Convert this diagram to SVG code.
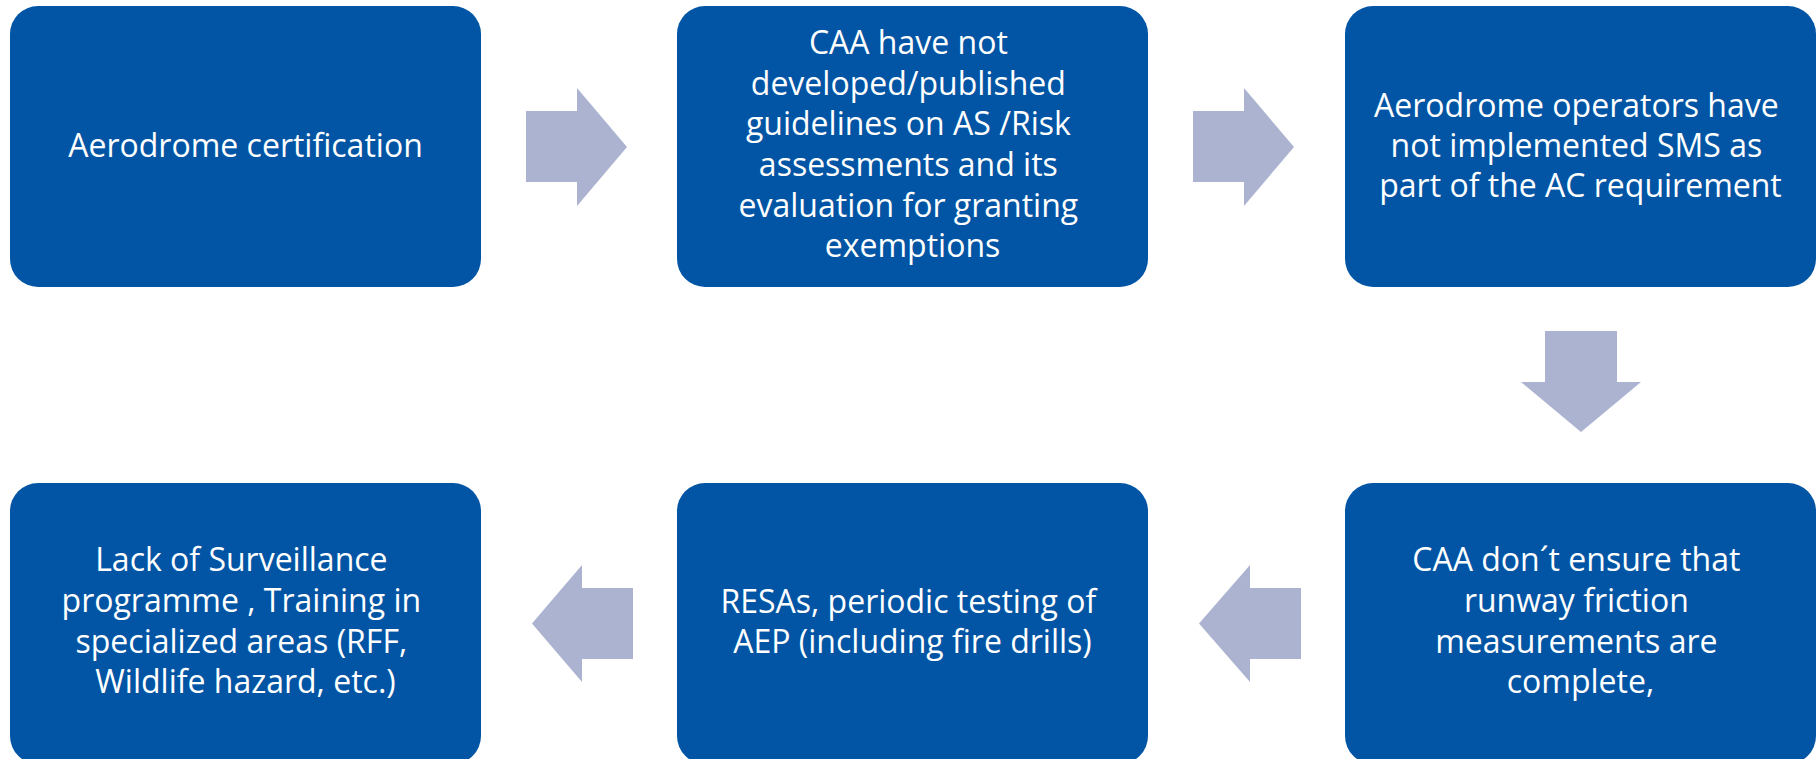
<svg xmlns="http://www.w3.org/2000/svg" width="1819" height="759" viewBox="0 0 1819 759">
  <style>
    .box { fill: #0255A4; }
    .arrow { fill: #ABB3D0; }
    .label { fill: #FFFFFF; font-family: "Open Sans", "Liberation Sans", sans-serif; font-size: 32px; text-anchor: middle; }
  </style>
  <rect width="1819" height="759" fill="#FFFFFF"/>

  <!-- process steps -->
  <g id="node-aerodrome-certification">
    <rect class="box" x="10" y="6" width="471" height="281" rx="28" ry="28"/>
    <text class="label" x="245.5" y="157">Aerodrome certification</text>
  </g>
  <g id="node-caa-guidelines">
    <rect class="box" x="677" y="6" width="471" height="281" rx="28" ry="28"/>
    <text class="label">
      <tspan x="912.5" y="54">CAA have not</tspan>
      <tspan x="912.5" y="94.5">developed/published</tspan>
      <tspan x="912.5" y="135">guidelines on AS /Risk</tspan>
      <tspan x="912.5" y="176">assessments and its</tspan>
      <tspan x="912.5" y="217">evaluation for granting</tspan>
      <tspan x="912.5" y="257">exemptions</tspan>
    </text>
  </g>
  <g id="node-operators-sms">
    <rect class="box" x="1345" y="6" width="471" height="281" rx="28" ry="28"/>
    <text class="label">
      <tspan x="1580.5" y="117">Aerodrome operators have</tspan>
      <tspan x="1580.5" y="157">not implemented SMS as</tspan>
      <tspan x="1580.5" y="197">part of the AC requirement</tspan>
    </text>
  </g>
  <g id="node-runway-friction">
    <rect class="box" x="1345" y="483" width="471" height="281" rx="28" ry="28"/>
    <text class="label">
      <tspan x="1580.5" y="571">CAA don´t ensure that</tspan>
      <tspan x="1580.5" y="612">runway friction</tspan>
      <tspan x="1580.5" y="653">measurements are</tspan>
      <tspan x="1580.5" y="693">complete,</tspan>
    </text>
  </g>
  <g id="node-resas-aep">
    <rect class="box" x="677" y="483" width="471" height="281" rx="28" ry="28"/>
    <text class="label">
      <tspan x="912.5" y="613">RESAs, periodic testing of</tspan>
      <tspan x="912.5" y="653">AEP (including fire drills)</tspan>
    </text>
  </g>
  <g id="node-surveillance">
    <rect class="box" x="10" y="483" width="471" height="281" rx="28" ry="28"/>
    <text class="label">
      <tspan x="245.5" y="571">Lack of Surveillance</tspan>
      <tspan x="245.5" y="612">programme , Training in</tspan>
      <tspan x="245.5" y="653">specialized areas (RFF,</tspan>
      <tspan x="245.5" y="693">Wildlife hazard, etc.)</tspan>
    </text>
  </g>

  <!-- block arrows between steps -->
  <g id="connectors">
    <polygon class="arrow" points="526,111 577,111 577,88 627,147 577,206 577,182 526,182"/>
    <polygon class="arrow" points="1193,111 1244,111 1244,88 1294,147 1244,206 1244,182 1193,182"/>
    <polygon class="arrow" points="1545,331 1617,331 1617,382 1641,382 1581,432 1521,382 1545,382"/>
    <polygon class="arrow" points="1301,588 1250,588 1250,565 1199,623.5 1250,682 1250,659 1301,659"/>
    <polygon class="arrow" points="633,588 582,588 582,565 532,623.5 582,682 582,659 633,659"/>
  </g>
</svg>
